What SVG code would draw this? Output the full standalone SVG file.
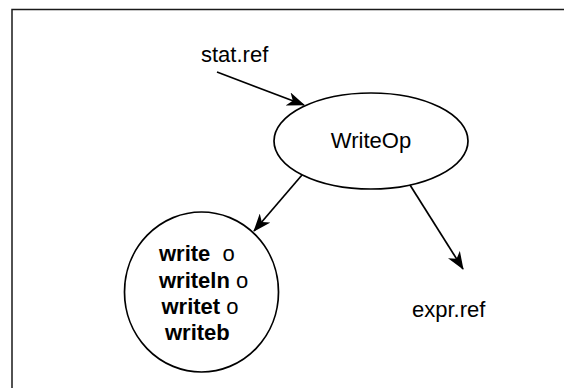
<svg xmlns="http://www.w3.org/2000/svg" width="564" height="388" viewBox="0 0 564 388">
<style>
.t{font-family:"Liberation Sans",Arial,sans-serif;font-size:22px;fill:#000}
.b{font-weight:bold}
.n{font-weight:normal}
.shape{fill:#fff;stroke:#000;stroke-width:1.7}
.edge{fill:none;stroke:#000;stroke-width:1.7}
</style>
<defs>
<marker id="ah" viewBox="0 0 18 14" refX="17" refY="7" markerWidth="18" markerHeight="14" markerUnits="userSpaceOnUse" orient="auto">
<path d="M0,0 L18,7 L0,14 L5,7 Z" fill="#000"/>
</marker>
</defs>
<rect x="0" y="0" width="564" height="388" fill="#fff"/>
<rect id="frame" x="12" y="9.5" width="620" height="420" fill="none" stroke="#1a1a1a" stroke-width="1.5"/>
<g id="stat-ref"><text class="t" x="201" y="62">stat.ref</text></g>
<g id="writeop">
<ellipse class="shape" cx="371" cy="141" rx="97" ry="48"/>
<text class="t" x="371" y="148" text-anchor="middle">WriteOp</text>
</g>
<g id="writes">
<ellipse class="shape" cx="201.5" cy="292" rx="77" ry="80"/>
<text class="t b" x="159" y="261">write&#160; <tspan class="n">o</tspan></text>
<text class="t b" x="159" y="288">writeln <tspan class="n">o</tspan></text>
<text class="t b" x="161.5" y="314">writet <tspan class="n">o</tspan></text>
<text class="t b" x="165" y="340">writeb</text>
</g>
<g id="expr-ref"><text class="t" x="412" y="317">expr.ref</text></g>
<g id="connectors">
<line class="edge" x1="217" y1="72" x2="304" y2="105" marker-end="url(#ah)"/>
<line class="edge" x1="302" y1="175" x2="254" y2="231" marker-end="url(#ah)"/>
<line class="edge" x1="410" y1="185" x2="463" y2="269" marker-end="url(#ah)"/>
</g>
</svg>
